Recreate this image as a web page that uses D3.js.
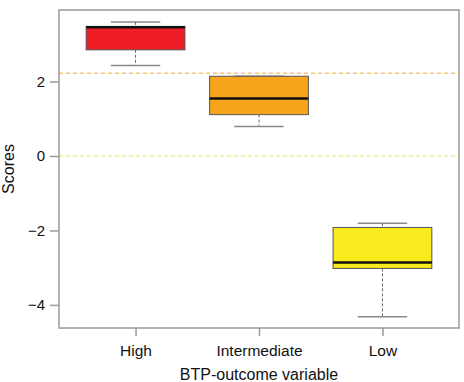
<!DOCTYPE html>
<html>
<head>
<meta charset="utf-8">
<script src="https://cdn.jsdelivr.net/npm/d3@7"></script>
<style>
  body { margin: 0; background: #fff; }
  text { font-family: "Liberation Sans", Arial, sans-serif; fill: #111; }
</style>
</head>
<body>
<svg id="chart" width="464" height="382"></svg>
<script>
// box statistics
var categories = ["High", "Intermediate", "Low"];
var lowerWhisker = [2.43, 0.79, -4.32];
var lowerQuartile = [2.85, 1.11, -3.02];
var medians = [3.46, 1.54, -2.86];
var upperQuartile = [3.48, 2.14, -1.92];
var upperWhisker = [3.60, 2.14, -1.81];
var boxColors = ["#ee1c25", "#f7a51c", "#f8ea1c"];
var yTicks = [-4, -2, 0, 2];
var refLines = [{ v: 2.22, color: "#f5c67a" }, { v: 0, color: "#efec9c" }];

var svg = d3.select("#chart");
var mLeft = 59, mRight = 459, mTop = 10, mBottom = 328;

var x = d3.scaleLinear().domain([0.38, 3.62]).range([mLeft, mRight]);
var y = d3.scaleLinear().domain([-4.62, 3.92]).range([mBottom, mTop]);

var boxes = categories.map(function(c, i) {
  return { name: c, pos: i + 1, lo: lowerWhisker[i], q1: lowerQuartile[i], med: medians[i],
           q3: upperQuartile[i], hi: upperWhisker[i], color: boxColors[i] };
});

// reference lines
svg.selectAll(".ref").data(refLines).enter().append("line")
  .attr("x1", mLeft).attr("x2", mRight)
  .attr("y1", function(d) { return y(d.v); })
  .attr("y2", function(d) { return y(d.v); })
  .attr("stroke", function(d) { return d.color; })
  .attr("stroke-width", 1.5)
  .attr("stroke-dasharray", "4,3");

var g = svg.selectAll(".box").data(boxes).enter().append("g");

// whiskers (dashed)
g.append("line")
  .attr("x1", function(d) { return x(d.pos); }).attr("x2", function(d) { return x(d.pos); })
  .attr("y1", function(d) { return y(d.hi); }).attr("y2", function(d) { return y(d.q3); })
  .attr("stroke", "#666").attr("stroke-dasharray", "3,2");
g.append("line")
  .attr("x1", function(d) { return x(d.pos); }).attr("x2", function(d) { return x(d.pos); })
  .attr("y1", function(d) { return y(d.q1); }).attr("y2", function(d) { return y(d.lo); })
  .attr("stroke", "#666").attr("stroke-dasharray", "3,2");

// caps
["hi", "lo"].forEach(function(k) {
  g.append("line")
    .attr("x1", function(d) { return x(d.pos - 0.2); }).attr("x2", function(d) { return x(d.pos + 0.2); })
    .attr("y1", function(d) { return y(d[k]); }).attr("y2", function(d) { return y(d[k]); })
    .attr("stroke", "#888").attr("stroke-width", 1.5);
});

// boxes
g.append("rect")
  .attr("x", function(d) { return x(d.pos - 0.4); })
  .attr("width", function(d) { return x(d.pos + 0.4) - x(d.pos - 0.4); })
  .attr("y", function(d) { return y(d.q3); })
  .attr("height", function(d) { return y(d.q1) - y(d.q3); })
  .attr("fill", function(d) { return d.color; })
  .attr("stroke", "#555").attr("stroke-width", 1);

// medians
g.append("line")
  .attr("x1", function(d) { return x(d.pos - 0.4); }).attr("x2", function(d) { return x(d.pos + 0.4); })
  .attr("y1", function(d) { return y(d.med); }).attr("y2", function(d) { return y(d.med); })
  .attr("stroke", "#111").attr("stroke-width", 2.5);

// frame
svg.append("rect")
  .attr("x", mLeft).attr("y", mTop)
  .attr("width", mRight - mLeft).attr("height", mBottom - mTop)
  .attr("fill", "none").attr("stroke", "#999").attr("stroke-width", 1.5);

// y axis
var yAxis = svg.append("g").attr("transform", "translate(" + mLeft + ",0)")
  .call(d3.axisLeft(y).tickValues(yTicks).tickSize(9).tickPadding(5)
    .tickFormat(function(d) { return d < 0 ? "\u2212" + Math.abs(d) : d; }));
yAxis.select(".domain").remove();
yAxis.selectAll("line").attr("stroke", "#999").attr("stroke-width", 1.5);
yAxis.selectAll("text").attr("font-size", 15).attr("fill", "#111")
  .style("font-family", "Liberation Sans, Arial, sans-serif");

// x axis
var xAxis = svg.append("g").attr("transform", "translate(0," + mBottom + ")")
  .call(d3.axisBottom(x).tickValues([1, 2, 3]).tickSize(8).tickPadding(9)
    .tickFormat(function(d) { return categories[d - 1]; }));
xAxis.select(".domain").remove();
xAxis.selectAll("line").attr("stroke", "#999").attr("stroke-width", 1.5);
xAxis.selectAll("text").attr("font-size", 15.5).attr("fill", "#111")
  .style("font-family", "Liberation Sans, Arial, sans-serif");

// titles
svg.append("text").attr("x", (mLeft + mRight) / 2).attr("y", 380)
  .attr("text-anchor", "middle").attr("font-size", 16).text("BTP-outcome variable");
svg.append("text")
  .attr("transform", "translate(14," + ((mTop + mBottom) / 2) + ") rotate(-90)")
  .attr("text-anchor", "middle").attr("font-size", 16).text("Scores");
</script>
</body>
</html>
